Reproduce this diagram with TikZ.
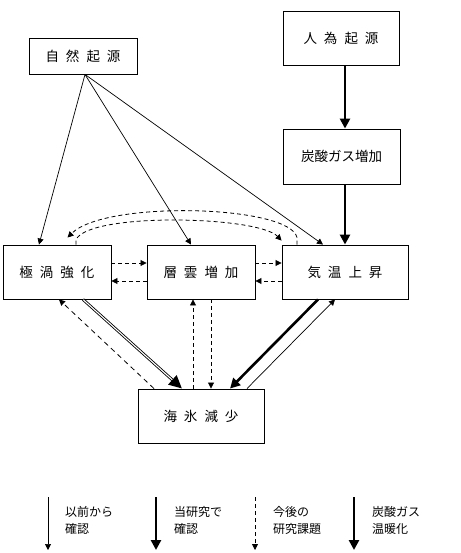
\documentclass[tikz,border=0pt]{standalone}
\usepackage{fontspec}
\setmainfont{Noto Sans CJK JP}
\usetikzlibrary{arrows.meta,calc}
\newcommand{\gp}{\hspace{7pt}}
\newcommand{\lowr}[1]{\raisebox{-3pt}{#1}}
\begin{document}
\begin{tikzpicture}[x=1pt,y=-1pt,
  box/.style={draw,line width=0.9pt,inner sep=0pt,font=\fontsize{13.5}{14}\selectfont},
  thinarr/.style={line width=0.7pt,-{Triangle[length=6pt,width=6pt]}},
  thickarr/.style={line width=2.6pt,-{Triangle[length=10pt,width=10pt]}},
  dasharr/.style={line width=0.8pt,dash pattern=on 4pt off 3pt,-{Triangle[length=6pt,width=6pt]}},
  legtext/.style={anchor=west,align=left,font=\fontsize{12}{17}\selectfont,inner sep=0pt}]
\useasboundingbox (0,0) rectangle (460,553);
% boxes
\node[box,minimum width=108pt,minimum height=36pt] (shizen) at (83,56) {\lowr{自\gp 然\gp 起\gp 源}};
\node[box,minimum width=116pt,minimum height=54pt] (jin) at (341,38) {\lowr{人\gp 為\gp 起\gp 源}\hspace{8pt}};
\node[box,minimum width=117pt,minimum height=55pt] (tansan) at (341.5,156.5) {\raisebox{-2pt}{炭酸ガス増加}};
\node[box,minimum width=108pt,minimum height=54pt] (kyoku) at (57,272) {\lowr{極\gp 渦\gp 強\gp 化}};
\node[box,minimum width=108pt,minimum height=54pt] (sou) at (201,272) {\lowr{層\gp 雲\gp 増\gp 加}};
\node[box,minimum width=126pt,minimum height=54pt] (kion) at (345,272) {\lowr{気\gp 温\gp 上\gp 昇}\hspace{10pt}};
\node[box,minimum width=126pt,minimum height=54pt] (kaihyo) at (201,416) {\lowr{海\gp 氷\gp 減\gp 少}\hspace{16pt}};
% natural origin
\draw[thinarr] ([xshift=2pt]shizen.south) -- ([xshift=-18pt]kyoku.north);
\draw[thinarr] ([xshift=2pt]shizen.south) -- ([xshift=-10pt]sou.north);
\draw[thinarr] ([xshift=2pt]shizen.south) -- ([xshift=-22pt]kion.north);
% human origin
\draw[thickarr] ([xshift=4pt]jin.south) -- ([xshift=3.5pt]tansan.north);
\draw[thickarr] ([xshift=3.5pt]tansan.south) -- (kion.north);
% horizontal dashed
\draw[dasharr] ([yshift=9pt]kyoku.east) -- ([yshift=9pt]kyoku.east -| sou.west);
\draw[dasharr] ([yshift=-9pt]sou.west) -- ([yshift=-9pt]sou.west -| kyoku.east);
\draw[dasharr] ([yshift=9pt]sou.east) -- ([yshift=9pt]sou.east -| kion.west);
\draw[dasharr] ([yshift=-9pt]kion.west) -- ([yshift=-9pt]kion.west -| sou.east);
% arcs
\draw[dasharr] ([xshift=-48pt]kion.north) -- ++(0,-7) .. controls (290,205) and (105,200) .. ($(kyoku.north west)+(65,-7)$);
\draw[dasharr] ([xshift=19pt]kyoku.north) -- ++(0,-5) .. controls (90,212) and (258,216) .. ($(kion.north west)+(0,-4)$);
% to/from sea ice
\draw[line width=2.8pt,-{Triangle[length=13pt,width=12pt]}] ([xshift=26pt]kyoku.south) -- ([xshift=-19pt]kaihyo.north);
\draw[white,line width=1.1pt,shorten >=13pt,shorten <=0.5pt] ([xshift=26pt]kyoku.south) -- ([xshift=-19pt]kaihyo.north);
\draw[line width=0.8pt,dash pattern=on 5pt off 4pt,-{Triangle[length=6pt,width=6pt]}] ([xshift=-47pt]kaihyo.north) -- ([xshift=2pt]kyoku.south);
\draw[dasharr] ([xshift=-8pt]kaihyo.north) -- ([xshift=-8pt]sou.south);
\draw[dasharr] ([xshift=10pt]sou.south) -- ([xshift=10pt]kaihyo.north);
\draw[thickarr] ([xshift=-27pt]kion.south) -- ([xshift=29pt]kaihyo.north);
\draw[thinarr] ([xshift=46pt]kaihyo.north) -- ([xshift=-10pt]kion.south);
% legend
\coordinate (l1a) at (48,497); \coordinate (l1b) at (48,550);
\coordinate (l2a) at (156,497); \coordinate (l2b) at (156,550);
\coordinate (l3a) at (255,497); \coordinate (l3b) at (255,550);
\coordinate (l4a) at (354,497); \coordinate (l4b) at (354,550);
\draw[thinarr] (l1a) -- (l1b);
\draw[thickarr] (l2a) -- (l2b);
\draw[dasharr] (l3a) -- (l3b);
\draw[thickarr] (l4a) -- (l4b);
\node[legtext] (t1) at (65,520.5) {以前から\\確認};
\node[legtext] (t2) at (174,520.5) {当研究で\\確認};
\node[legtext] (t3) at (273,520.5) {今後の\\研究課題};
\node[legtext] (t4) at (372,520.5) {炭酸ガス\\温暖化};
\end{tikzpicture}
\end{document}
